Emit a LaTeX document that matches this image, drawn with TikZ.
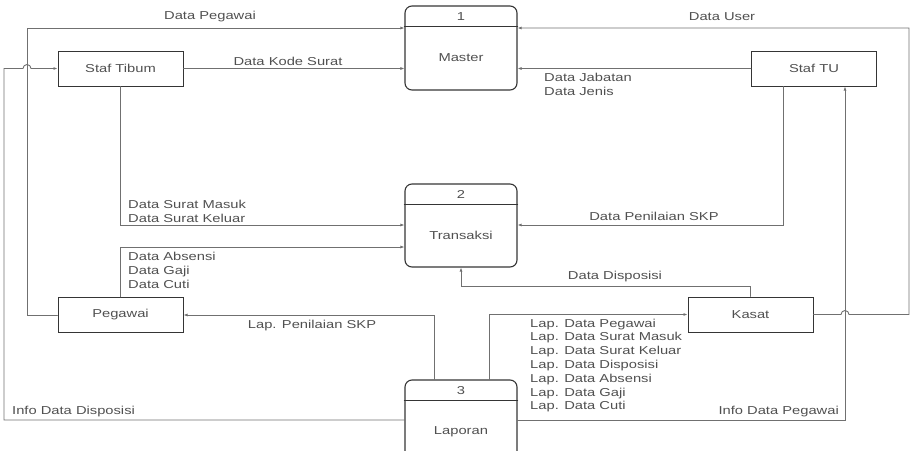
\documentclass[tikz,border=0pt]{standalone}
\usepackage{fontspec}
\setmainfont[FakeStretch=1.28]{Liberation Sans}
\usetikzlibrary{arrows.meta}

\definecolor{garis}{HTML}{707070}
\definecolor{tepi}{HTML}{353535}
\definecolor{teks}{HTML}{505050}

\begin{document}
\begin{tikzpicture}[%
        x = 1pt, y = -1pt,
        > = {Latex[length=4pt,width=3pt]},
        line cap = round,
        every node/.style = {font=\fontsize{11.5}{13.8}\selectfont},
        flow/.style = {draw=garis, line width=0.9pt},
        entitas/.style = {draw=tepi, line width=1pt, minimum width=125pt,
            minimum height=35pt, inner sep=0pt, text=teks},
        proses/.style = {draw=tepi, line width=1.1pt, rounded corners=7pt,
            minimum width=112pt, inner sep=0pt},
        lbl/.style = {text=teks, inner sep=0pt, align=left}
    ]

        \clip (0,0) rectangle (910,450);

        % External entities.
        \node[entitas] (staftibum) at (120.5,68.5) {Staf Tibum};
        \node[entitas] (staftu)    at (814,68.5)   {Staf TU};
        \node[entitas] (pegawai)   at (120.5,315)  {Pegawai};
        \node[entitas] (kasat)     at (750.5,314.5) {Kasat};

        % Processes.
        \node[proses, minimum height=84pt] (master)    at (461,48)    {};
        \node[proses, minimum height=83pt] (transaksi) at (461,225.5) {};
        \node[proses, minimum height=84pt] (laporan)   at (461,422)   {};

        \foreach \p/\n/\t in {master/1/Master, transaksi/2/Transaksi, laporan/3/Laporan} {
            \draw[draw=tepi, line width=1.1pt]
                ([yshift=-21pt]\p.north west) -- ([yshift=-21pt]\p.north east);
            \node[text=teks] (nomor\n) at ([yshift=-11pt]\p.north) {\n};
            \node[text=teks] (nama\n)  at ([yshift=-10pt]\p.center) {\t};
        }

        % Flows into Master.
        \draw[flow,->] (pegawai.west) -- (27,315) -- (27,28) -- (master.west |- 0,28);
        \draw[flow,->] (kasat.east) -- (841,314.5)
            arc[start angle=180, end angle=360, radius=4] -- (909,314.5)
            -- (909,28) -- (master.east |- 0,28);
        \draw[flow,->] (staftibum.east) -- (master.west |- staftibum.east);
        \draw[flow,->] (staftu.west) -- (master.east |- staftu.west);

        % Flows into Transaksi.
        \draw[flow,->] (staftibum.south) -- (120.5,225) -- (transaksi.west |- 0,225);
        \draw[flow,->] (pegawai.north) -- (120.5,247) -- (transaksi.west |- 0,247);
        \draw[flow,->] ([xshift=-31pt]staftu.south) -- (783,225) -- (transaksi.east |- 0,225);
        \draw[flow,->] (kasat.north) -- (750.5,286) -- (461,286) -- (transaksi.south);

        % Flows out of Laporan.
        \draw[flow,->] ([xshift=-27pt]laporan.north) -- (434,315) -- (pegawai.east);
        \draw[flow,->] ([xshift=28pt]laporan.north) -- (489,314.5) -- (kasat.west);
        \draw[flow,->] (laporan.west |- 0,420) -- (4,420) -- (4,68.5) -- (23,68.5)
            arc[start angle=180, end angle=360, radius=4] -- (staftibum.west);
        \draw[flow,->] (laporan.east |- 0,420) -- (845,420) -- (845,0 |- staftu.south);

        % Flow labels.
        \node[lbl] (lpegawai) at (210,17)  {Data Pegawai};
        \node[lbl] (luser)    at (722,17)  {Data User};
        \node[lbl] (lkode)    at (288,61)  {Data Kode Surat};
        \node[lbl, anchor=west] (ljabatan) at (544,84.5) {Data Jabatan\\Data Jenis};
        \node[lbl, anchor=west] (lsurat)   at (128,211)  {Data Surat Masuk\\Data Surat Keluar};
        \node[lbl, anchor=west] (labsensi) at (128,270.5) {Data Absensi\\Data Gaji\\Data Cuti};
        \node[lbl] (lskp)     at (654,216) {Data Penilaian SKP};
        \node[lbl] (ldispo)   at (615,277) {Data Disposisi};
        \node[lbl] (llapskp)  at (312,326) {Lap. Penilaian SKP};
        \node[lbl, anchor=west] (llapdata) at (530,365.5)
            {Lap. Data Pegawai\\Lap. Data Surat Masuk\\Lap. Data Surat Keluar\\Lap. Data Disposisi\\Lap. Data Absensi\\Lap. Data Gaji\\Lap. Data Cuti};
        \node[lbl, anchor=west] (linfodispo) at (12,412) {Info Data Disposisi};
        \node[lbl, anchor=east] (linfopeg)   at (839,412) {Info Data Pegawai};
    \end{tikzpicture}
\end{document}
